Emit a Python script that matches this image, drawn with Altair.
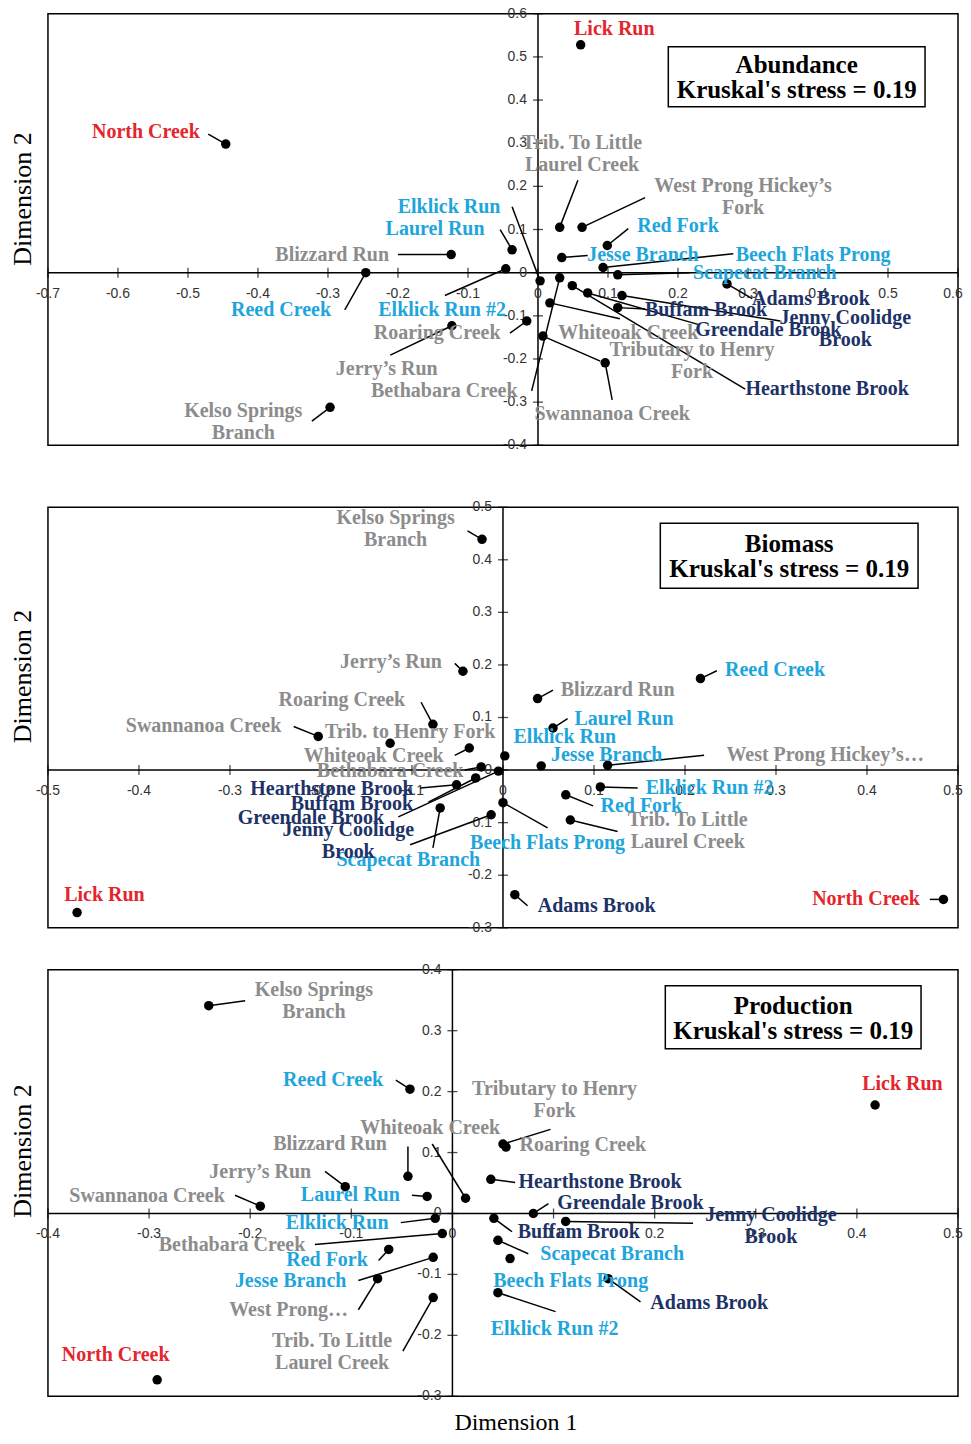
import altair as alt
import pandas as pd

# ---------------- data ----------------
names = ["Lick Run", "North Creek", "Trib. To Little Laurel Creek", "West Prong Hickey's Fork",
         "Red Fork", "Elklick Run", "Laurel Run", "Blizzard Run", "Reed Creek", "Elklick Run #2",
         "Roaring Creek", "Jerry's Run", "Bethabara Creek", "Kelso Springs Branch", "Swannanoa Creek",
         "Whiteoak Creek", "Tributary to Henry Fork", "Jesse Branch", "Beech Flats Prong",
         "Scapecat Branch", "Adams Brook", "Buffam Brook", "Greendale Brook",
         "Jenny Coolidge Brook", "Hearthstone Brook"]
groups = ["red", "red", "gray", "gray", "blue", "blue", "blue", "gray", "blue", "blue",
          "gray", "gray", "gray", "gray", "gray", "gray", "gray", "blue", "blue", "blue",
          "navy", "navy", "navy", "navy", "navy"]

labels_1 = ["Lick Run", "North Creek", "Trib. To Little\nLaurel Creek", "West Prong Hickey\u2019s\nFork",
            "Red Fork", "Elklick Run", "Laurel Run", "Blizzard Run", "Reed Creek", "Elklick Run #2",
            "Roaring Creek", "Jerry\u2019s Run", "Bethabara Creek", "Kelso Springs\nBranch", "Swannanoa Creek",
            "Whiteoak Creek", "Tributary to Henry\nFork", "Jesse Branch", "Beech Flats Prong",
            "Scapecat Branch", "Adams Brook", "Buffam Brook", "Greendale Brook",
            "Jenny Coolidge\nBrook", "Hearthstone Brook"]
labels_2 = list(labels_1)
labels_2[3] = "West Prong Hickey\u2019s\u2026"
labels_2[16] = "Trib. to Henry Fork"
labels_3 = list(labels_1)
labels_3[3] = "West Prong\u2026"

# Abundance
ab_x = [0.061, -0.446, 0.031, 0.063, 0.099, 0.003, -0.037, -0.124, -0.246, -0.046, -0.016, -0.123, 0.031,
        -0.297, 0.096, 0.017, 0.007, 0.034, 0.093, 0.114, 0.270, 0.114, 0.071, 0.120, 0.049]
ab_y = [0.528, 0.298, 0.105, 0.105, 0.063, -0.019, 0.053, 0.042, 0.000, 0.009, -0.112, -0.123, -0.012,
        -0.312, -0.209, -0.070, -0.147, 0.035, 0.012, -0.005, -0.026, -0.081, -0.047, -0.053, -0.030]
ab_lx = [0.109, -0.560, 0.063, 0.293, 0.200, -0.127, -0.147, -0.294, -0.367, -0.137, -0.144, -0.216, -0.134,
         -0.421, 0.106, 0.129, 0.220, 0.150, 0.393, 0.324, 0.390, 0.240, 0.329, 0.439, 0.413]
ab_ly = [0.565, 0.326, 0.300, 0.200, 0.107, 0.153, 0.102, 0.042, -0.086, -0.086, -0.140, -0.223, -0.274,
         -0.321, -0.328, -0.140, -0.179, 0.042, 0.042, 0.000, -0.060, -0.086, -0.133, -0.105, -0.270]
ab_ex = [None, -0.471, 0.057, 0.153, 0.129, -0.037, -0.054, -0.200, -0.276, -0.133, -0.040, -0.211, -0.009,
         -0.323, 0.106, 0.117, 0.089, 0.071, 0.279, 0.217, 0.306, 0.153, 0.231, 0.346, 0.296]
ab_ey = [None, 0.321, 0.214, 0.174, 0.102, 0.153, 0.100, 0.042, -0.086, -0.053, -0.140, -0.191, -0.274,
         -0.344, -0.295, -0.107, -0.205, 0.040, 0.044, 0.000, -0.060, -0.084, -0.121, -0.112, -0.270]

# Biomass
bm_x = [-0.468, 0.484, 0.074, 0.115, 0.069, 0.002, 0.055, 0.038, 0.217, 0.107, -0.077, -0.044, -0.024,
        -0.023, -0.203, -0.037, -0.124, 0.042, 0.000, -0.069, 0.013, -0.030, -0.005, -0.013, -0.051]
bm_y = [-0.271, -0.246, -0.095, 0.009, -0.047, 0.027, 0.080, 0.136, 0.174, -0.032, 0.087, 0.188, 0.006,
        0.439, 0.064, 0.042, 0.051, 0.008, -0.062, -0.072, -0.237, -0.015, -0.002, -0.085, -0.028]
bm_lx = [-0.438, 0.399, 0.203, 0.354, 0.152, 0.068, 0.133, 0.126, 0.299, 0.227, -0.177, -0.123, -0.124,
         -0.118, -0.329, -0.142, -0.102, 0.114, 0.049, -0.104, 0.103, -0.166, -0.211, -0.170, -0.188]
bm_ly = [-0.237, -0.246, -0.095, 0.028, -0.068, 0.063, 0.098, 0.153, 0.191, -0.034, 0.134, 0.205, -0.002,
         0.479, 0.083, 0.027, 0.072, 0.028, -0.138, -0.172, -0.258, -0.064, -0.091, -0.114, -0.036]
bm_ex = [None, 0.469, 0.126, 0.221, 0.099, None, 0.071, 0.055, 0.235, 0.148, -0.090, -0.053, -0.042,
         -0.039, -0.230, -0.053, None, None, 0.049, -0.077, 0.027, -0.082, -0.115, -0.102, -0.091]
bm_ey = [None, -0.246, -0.117, 0.028, -0.068, None, 0.098, 0.152, 0.189, -0.034, 0.129, 0.203, 0.000,
         0.455, 0.083, 0.028, None, None, -0.110, -0.148, -0.258, -0.061, -0.089, -0.142, -0.034]

# Production
pr_x = [0.418, -0.292, -0.019, -0.074, -0.063, -0.017, -0.025, -0.044, -0.042, 0.045, 0.053, -0.106, -0.010,
        -0.241, -0.190, 0.013, 0.050, -0.019, 0.057, 0.045, 0.154, 0.041, 0.080, 0.112, 0.038]
pr_y = [0.178, -0.273, -0.138, -0.107, -0.059, -0.008, 0.028, 0.061, 0.204, -0.130, 0.109, 0.044, -0.033,
        0.341, 0.012, 0.025, 0.114, -0.072, -0.074, -0.044, -0.107, -0.008, 0.000, -0.013, 0.056]
pr_lx = [0.445, -0.333, -0.119, -0.162, -0.124, -0.114, -0.101, -0.121, -0.118, 0.101, 0.129, -0.190, -0.218,
         -0.137, -0.302, -0.022, 0.101, -0.160, 0.117, 0.158, 0.254, 0.125, 0.176, 0.315, 0.146]
pr_ly = [0.213, -0.232, -0.209, -0.158, -0.077, -0.015, 0.031, 0.114, 0.219, -0.189, 0.112, 0.068, -0.051,
         0.367, 0.028, 0.140, 0.204, -0.110, -0.110, -0.066, -0.147, -0.031, 0.018, -0.002, 0.051]
pr_ex = [None, None, -0.049, -0.093, -0.073, -0.051, -0.040, -0.044, -0.056, 0.102, None, -0.126, -0.136,
         -0.205, -0.215, -0.020, 0.097, -0.093, None, 0.075, 0.186, 0.059, 0.095, 0.238, 0.062]
pr_ey = [None, None, -0.226, -0.158, -0.077, -0.015, 0.030, 0.110, 0.219, -0.161, None, 0.069, -0.051,
         0.349, 0.030, 0.114, 0.138, -0.110, None, -0.066, -0.145, -0.030, 0.016, -0.016, 0.051]

ab_xticks = [-0.7, -0.6, -0.5, -0.4, -0.3, -0.2, -0.1, 0.0, 0.1, 0.2, 0.3, 0.4, 0.5, 0.6]
ab_yticks = [-0.4, -0.3, -0.2, -0.1, 0.0, 0.1, 0.2, 0.3, 0.4, 0.5, 0.6]
bm_xticks = [-0.5, -0.4, -0.3, -0.2, -0.1, 0.0, 0.1, 0.2, 0.3, 0.4, 0.5]
bm_yticks = [-0.3, -0.2, -0.1, 0.0, 0.1, 0.2, 0.3, 0.4, 0.5]
pr_xticks = [-0.4, -0.3, -0.2, -0.1, 0.0, 0.1, 0.2, 0.3, 0.4, 0.5]
pr_yticks = [-0.3, -0.2, -0.1, 0.0, 0.1, 0.2, 0.3, 0.4]

SERIF = "Liberation Serif"
SANS = "Liberation Sans"
grp_domain = ["red", "gray", "blue", "navy"]
grp_range = ["#e3262d", "#8c8c8c", "#1ea5dc", "#1d3266"]


def fmt(v):
    s = f"{v:.1f}"
    return "0" if s in ("0.0", "-0.0") else s


def make_panel(px, py, plx, ply, pex, pey, texts, xdom, ydom, xt, yt,
               box_text, box, text_y, w, h, ytitle_y, x_title):
    df = pd.DataFrame(dict(name=names, grp=groups, x=px, y=py, lx=plx, ly=ply,
                           ex=pex, ey=pey, txt=texts))
    lead = df.dropna(subset=["ex", "ey"])
    xs = alt.Scale(domain=xdom, nice=False, zero=False)
    ys = alt.Scale(domain=ydom, nice=False, zero=False)
    if x_title:
        xax = alt.Axis(title="Dimension 1", titleX=468, titleY=26, titleBaseline="middle",
                       titleAlign="center", titleAngle=0, titleFontSize=24)
    else:
        xax = None
    yax = alt.Axis(title="Dimension 2", titleX=-25, titleY=ytitle_y, titleBaseline="middle",
                   titleAlign="center", titleAngle=270)

    def X(f):
        return alt.X(f, type="quantitative", scale=xs, axis=xax)

    def Y(f):
        return alt.Y(f, type="quantitative", scale=ys, axis=yax)

    zero = pd.DataFrame({"z": [0.0]})
    xtd = pd.DataFrame({"v": xt, "z": 0.0, "t": [fmt(v) for v in xt]})
    ytd = pd.DataFrame({"v": yt, "z": 0.0, "t": [fmt(v) for v in yt]})
    xtd_main = xtd.iloc[:-1]
    xtd_last = xtd.iloc[-1:]

    vline = alt.Chart(zero).mark_rule(color="black", strokeWidth=1.5).encode(x=X("z"))
    hline = alt.Chart(zero).mark_rule(color="black", strokeWidth=1.5).encode(y=Y("z"))
    xtk = alt.Chart(xtd).mark_tick(orient="vertical", size=10, thickness=1.3, color="black").encode(
        x=X("v"), y=Y("z"))
    ytk = alt.Chart(ytd).mark_tick(orient="horizontal", size=10, thickness=1.3, color="black").encode(
        x=X("z"), y=Y("v"))
    xtl = alt.Chart(xtd_main).mark_text(font=SANS, fontSize=14, color="#333", dy=21,
                                        baseline="middle").encode(x=X("v"), y=Y("z"), text="t:N")
    xtl_last = alt.Chart(xtd_last).mark_text(font=SANS, fontSize=14, color="#333", dy=21, dx=-5,
                                             baseline="middle").encode(x=X("v"), y=Y("z"), text="t:N")
    ytl = alt.Chart(ytd).mark_text(font=SANS, fontSize=14, color="#333", dx=-11, align="right",
                                   baseline="middle").encode(x=X("z"), y=Y("v"), text="t:N")
    leaders = alt.Chart(lead).mark_rule(color="black", strokeWidth=1.5).encode(
        x=X("x"), y=Y("y"), x2=alt.X2("ex"), y2=alt.Y2("ey"))
    pts = alt.Chart(df).mark_circle(size=90, color="black", opacity=1).encode(x=X("x"), y=Y("y"))
    lbl = alt.Chart(df).mark_text(font=SERIF, fontSize=20, fontWeight="bold", lineBreak="\n",
                                  lineHeight=22, baseline="middle").encode(
        x=X("lx"), y=Y("ly"), text="txt:N",
        color=alt.Color("grp:N", scale=alt.Scale(domain=grp_domain, range=grp_range), legend=None))
    one = pd.DataFrame({"k": [1]})
    x0, x1, y0, y1 = box
    rect = alt.Chart(one).mark_rect(fill="white", stroke="black", strokeWidth=1.5).encode(
        x=alt.value(x0), x2=alt.value(x1), y=alt.value(y0), y2=alt.value(y1))
    btxt = alt.Chart(one).mark_text(font=SERIF, fontSize=25, fontWeight="bold", lineBreak="\n",
                                    lineHeight=25, color="black", baseline="middle").encode(
        x=alt.value((x0 + x1) / 2), y=alt.value(text_y), text=alt.value(box_text))
    return alt.layer(vline, hline, xtk, ytk, xtl, xtl_last, ytl, leaders, pts, lbl, rect, btxt).properties(
        width=w, height=h)


p1 = make_panel(ab_x, ab_y, ab_lx, ab_ly, ab_ex, ab_ey, labels_1, [-0.7, 0.6], [-0.4, 0.6],
                ab_xticks, ab_yticks, "Abundance\nKruskal's stress = 0.19", (621, 878, 33, 93), 51,
                911, 432, 185, False)
p2 = make_panel(bm_x, bm_y, bm_lx, bm_ly, bm_ex, bm_ey, labels_2, [-0.5, 0.5], [-0.3, 0.5],
                bm_xticks, bm_yticks, "Biomass\nKruskal's stress = 0.19", (613, 871, 16, 81), 37,
                911, 421, 169, False)
p3 = make_panel(pr_x, pr_y, pr_lx, pr_ly, pr_ex, pr_ey, labels_3, [-0.4, 0.5], [-0.3, 0.4],
                pr_xticks, pr_yticks, "Production\nKruskal's stress = 0.19", (618, 874, 16, 79), 36,
                911, 427, 181, True)

chart = alt.vconcat(alt.vconcat(p1, p2, spacing=46), p3, spacing=26).properties(
    padding={"left": 1, "top": -3, "right": -1, "bottom": -3}, background="white"
).configure_view(stroke="black", strokeWidth=1.5).configure_axis(
    labels=False, ticks=False, domain=False, grid=False,
    titleFont=SERIF, titleFontSize=26, titleFontWeight="normal", titleColor="black"
)

chart.save("out.html", embed_options={"renderer": "svg", "actions": False})
